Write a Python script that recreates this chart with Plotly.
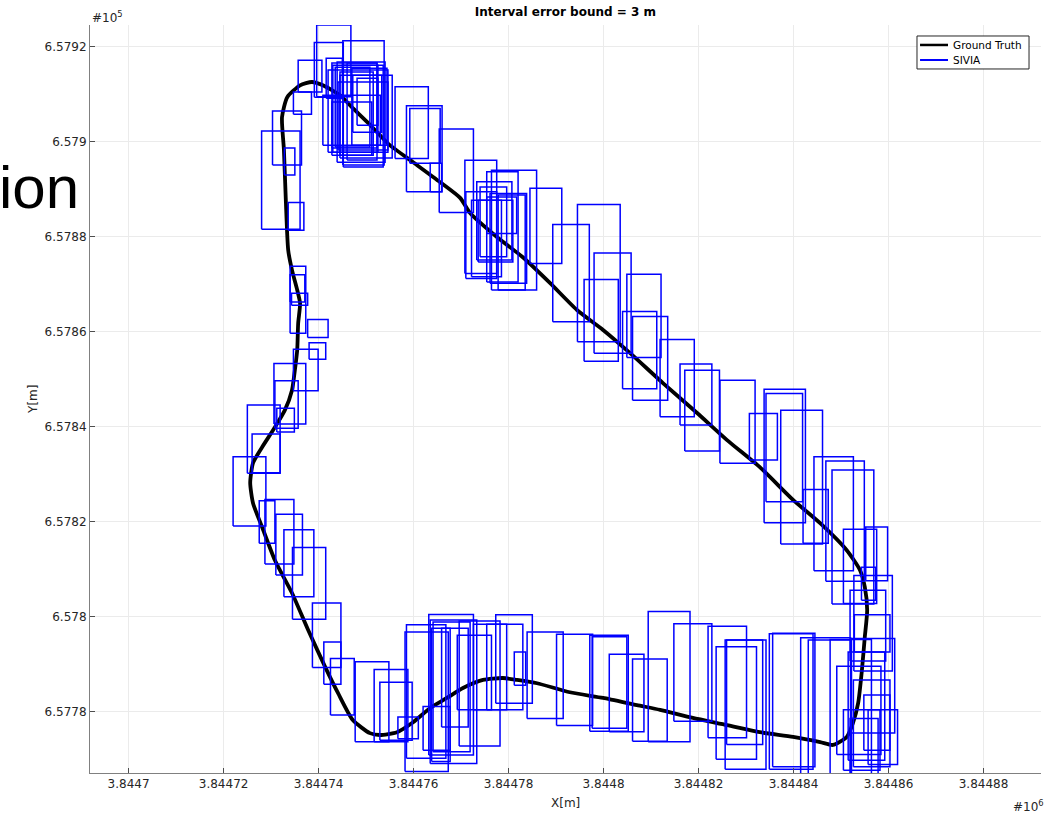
import plotly.graph_objects as go

# Local ENU origin (metres); the axes show absolute coordinates
X0 = 3844700.0
Y0 = 657780.0

# Ground-truth trajectory, local east/north (m)
gt_east = [38.6, 40.9, 44.5, 47.2, 50.2, 52.9, 55.0, 59.9, 65.6, 69.8, 71.9, 77.6, 83.0, 88.7,
           94.4, 99.9, 105.6, 112.5, 119.7, 126.0, 132.9, 139.9, 145.6, 151.2, 154.0, 155.0,
           155.5, 155.0, 154.4, 153.6, 152.5, 151.2, 148.3, 145.6, 139.9, 132.9, 126.0, 118.8,
           111.9, 107.0, 99.9, 92.9, 86.0, 81.8, 78.8, 74.6, 70.4, 67.0, 63.5, 59.9, 56.5, 52.9,
           50.8, 47.2, 44.1, 41.4, 37.8, 34.4, 30.8, 28.1, 26.2, 25.6, 26.2, 28.1, 30.8, 32.9,
           34.4, 35.0, 35.5, 35.7, 36.1, 35.5, 34.4, 33.6, 33.1, 32.7, 32.3, 33.4, 36.1, 38.6]
gt_north = [132.6, 131.9, 129.8, 127.1, 124.2, 121.4, 119.3, 115.7, 111.5, 108.2, 105.0, 99.9,
            95.7, 90.3, 84.6, 80.4, 75.5, 69.2, 62.9, 57.2, 51.5, 44.6, 39.7, 34.0, 29.8, 26.3,
            21.4, 15.7, 8.8, 1.8, -2.4, -5.3, -7.0, -6.4, -5.3, -4.3, -2.8, -1.3, 0.4, 1.4, 2.9,
            4.1, 6.0, 6.7, 7.1, 6.7, 5.0, 2.9, 0.8, -2.2, -4.3, -4.9, -4.5, -1.75, 3.9, 9.4, 17.2,
            25.0, 31.9, 38.9, 43.9, 48.2, 52.4, 55.7, 59.9, 63.5, 67.7, 71.9, 76.2, 81.8, 86.0,
            88.8, 93.0, 97.2, 107.7, 118.3, 125.2, 129.4, 131.9, 132.6]

# SIVIA solution boxes, local east/north bounds (m)
box_east_min = [39.6, 39.1, 45.1, 35.7, 34.7, 30.3, 28.0, 32.8, 33.6,
                41.6, 42.8, 43.0, 43.9, 40.9, 42.0, 44.5, 45.2, 44.5, 43.5, 46.0, 47.0, 44.1, 42.8, 47.2, 48.1,
                56.1, 58.5, 59.2, 65.4, 63.5,
                70.8, 73.3, 75.4, 76.4, 84.5, 71.0, 72.2, 74.0, 75.4, 73.6, 76.1, 77.8,
                89.3, 94.5, 98.0, 95.9, 104.9, 104.0, 106.1, 111.9, 116.1, 117.1, 124.5,
                130.7, 133.8, 134.2, 137.3, 142.0, 144.3, 146.8, 148.1, 150.5, 155.2, 154.3,
                151.9, 152.7, 152.8, 152.1, 149.1, 151.5, 152.6, 154.8, 155.7, 150.5, 151.9,
                147.7, 143.1, 141.5, 135.6, 134.9, 125.9, 125.6, 123.7, 122.0, 114.8, 109.4,
                106.1, 101.2, 97.6, 97.1, 90.1, 83.9, 81.2, 77.3, 75.4, 72.6, 69.6, 69.2,
                63.8, 65.9, 64.1, 63.5, 63.2, 62.0, 58.5, 58.2, 56.7, 52.9, 51.7, 47.7,
                42.5, 41.1, 38.7, 34.5, 32.7, 31.0, 28.7, 27.5, 22.0, 26.0, 25.0, 31.2,
                30.8, 30.6, 34.7, 38.0, 37.7, 34.3, 34.0, 34.0]
box_east_max = [46.8, 45.2, 53.8, 40.7, 38.5, 36.4, 36.1, 35.0, 36.9,
                45.0, 52.3, 52.5, 54.0, 53.0, 54.6, 55.5, 53.6, 51.5, 50.8, 52.3, 54.4, 54.6, 51.2, 53.3, 52.5,
                63.1, 66.0, 65.6, 72.6, 65.9,
                77.5, 80.7, 82.0, 85.9, 91.2, 77.5, 78.5, 79.6, 81.7, 80.9, 83.8, 83.5,
                97.0, 103.5, 105.8, 103.1, 112.1, 111.2, 113.5, 119.1, 122.8, 124.4, 131.9,
                136.6, 142.5, 141.9, 146.1, 147.3, 152.6, 154.9, 156.9, 157.5, 159.8, 157.3,
                159.4, 160.8, 160.3, 161.3, 158.4, 159.2, 160.3, 160.3, 161.9, 158.2, 157.8,
                156.4, 152.2, 152.0, 144.5, 144.1, 133.5, 134.2, 132.2, 130.1, 122.8, 118.2,
                113.4, 108.5, 104.9, 105.2, 97.7, 91.5, 83.6, 85.0, 83.0, 79.6, 78.2, 76.4,
                67.7, 71.5, 71.9, 73.3, 72.6, 67.7, 66.8, 67.3, 61.0, 59.7, 58.8, 54.8,
                47.5, 44.7, 44.7, 41.5, 39.0, 36.6, 34.8, 30.8, 28.9, 31.9, 31.9, 34.9,
                35.7, 37.3, 39.9, 41.5, 42.0, 37.7, 37.1, 37.3]
box_north_min = [129.5, 129.4, 115.1, 130.5, 125.8, 115.1, 101.6, 113.0, 101.4,
                 129.2, 118.7, 117.8, 115.7, 119.3, 117.8, 116.6, 114.7, 117.2, 118.9, 116.2, 119.3, 118.3, 117.2, 122.0, 123.5,
                 116.5, 109.5, 115.5, 105.1, 109.5,
                 92.3, 95.1, 90.5, 88.8, 94.4, 91.2, 91.6, 95.8, 100.7, 94.7, 90.2, 88.8,
                 82.1, 77.9, 75.5, 73.8, 74.6, 68.0, 65.6, 62.1, 60.4, 54.9, 52.3,
                 53.0, 39.8, 44.2, 35.3, 35.5, 29.7, 27.5, 22.7, 22.8, 27.6, 23.5,
                 10.7, 8.6, 12.6, -4.5, -9.0, -10.2, -11.6, -8.1, -11.1, -12.3, -13.2,
                 -13.5, -13.5, -13.2, -11.6, -12.1, -6.9, -12.1, -10.0, -5.5, -2.0, -6.3,
                 -6.2, -4.2, -3.5, -4.1, -2.9, -1.4, 5.6, 1.8, 0.4, 0.4, -7.2, 0.4,
                 -10.5, -3.2, -8.4, -10.9, -9.1, -8.1, -9.8, -12.6, -5.7, -6.0, -6.3, -6.3,
                 -0.7, 5.8, 9.3, 19.5, 24.2, 28.8, 31.1, 35.5, 39.1, 50.3, 50.2, 58.9,
                 59.7, 60.6, 67.6, 74.2, 78.8, 85.6, 86.3, 79.7]
box_north_max = [144.6, 140.9, 141.3, 137.2, 130.5, 126.5, 122.3, 118.7, 107.2,
                 137.6, 136.6, 136.1, 136.8, 129.8, 135.1, 134.0, 136.1, 134.7, 135.7, 136.6, 135.5, 132.6, 128.4, 134.0, 133.4,
                 131.6, 127.6, 127.0, 122.7, 115.5,
                 116.1, 111.6, 113.7, 114.0, 110.2, 109.5, 107.7, 110.5, 108.4, 107.7, 109.1, 108.8,
                 102.6, 106.8, 96.6, 91.0, 92.1, 84.3, 83.2, 78.4, 73.2, 71.9, 69.8,
                 62.8, 67.9, 67.0, 63.5, 46.8, 53.7, 52.8, 50.9, 38.4, 38.9, 30.4,
                 25.6, 28.7, 20.4, 15.4, 9.6, 12.6, 6.7, 3.5, 0.4, 0.4, -1.4,
                 15.2, 15.1, 15.6, 16.5, 16.4, 15.1, 15.1, 13.7, 18.0, 18.5, 21.1,
                 11.1, 12.1, 15.8, 16.1, 16.3, 16.8, 12.6, 20.4, 18.4, 18.4, 19.1, 16.1,
                 17.6, 17.6, 18.9, 19.3, 20.5, 1.1, 18.3, 16.8, -1.1, 6.2, 8.9, 10.5,
                 11.2, 14.7, 22.9, 34.6, 38.3, 41.6, 44.7, 44.4, 53.7, 58.5, 64.6, 63.9,
                 69.7, 73.3, 76.3, 77.7, 82.6, 88.1, 92.0, 93.8]

x_tick_vals = [3844700, 3844720, 3844740, 3844760, 3844780, 3844800, 3844820, 3844840, 3844860, 3844880]
x_tick_text = ["3.8447", "3.84472", "3.84474", "3.84476", "3.84478", "3.8448",
               "3.84482", "3.84484", "3.84486", "3.84488"]
y_tick_vals = [657780, 657800, 657820, 657840, 657860, 657880, 657900, 657920]
y_tick_text = ["6.5778", "6.578", "6.5782", "6.5784", "6.5786", "6.5788", "6.579", "6.5792"]

series_names = ["Ground Truth", "SIVIA"]
series_colors = ["black", "#0000ff"]

# Box outlines as one polyline with gaps between rectangles
bx, by = [], []
for e0, e1, n0, n1 in zip(box_east_min, box_east_max, box_north_min, box_north_max):
    bx += [X0 + e0, X0 + e1, X0 + e1, X0 + e0, X0 + e0, None]
    by += [Y0 + n0, Y0 + n0, Y0 + n1, Y0 + n1, Y0 + n0, None]

fig = go.Figure()
fig.add_trace(go.Scatter(
    x=[X0 + e for e in gt_east], y=[Y0 + n for n in gt_north],
    mode="lines", name=series_names[0], showlegend=False,
    line=dict(color=series_colors[0], width=3.8, shape="spline", smoothing=0.6),
))
fig.add_trace(go.Scatter(
    x=bx, y=by, mode="lines", name=series_names[1], showlegend=False,
    line=dict(color=series_colors[1], width=1.5),
))

FONT = "DejaVu Sans"
axis_common = dict(
    showgrid=True, gridcolor="#ebebeb", gridwidth=1,
    zeroline=False, showline=True, linecolor="#808080", linewidth=1,
    ticks="inside", ticklen=5, tickcolor="#4d4d4d",
    tickfont=dict(family=FONT, size=12, color="#262626"),
    mirror=False,
)
fig.update_xaxes(range=[X0 - 8.13, X0 + 192.1], tickmode="array",
                 tickvals=x_tick_vals, ticktext=x_tick_text, **axis_common)
fig.update_yaxes(range=[Y0 - 12.9, Y0 + 144.6], tickmode="array",
                 tickvals=y_tick_vals, ticktext=y_tick_text, **axis_common)

# Compact boxed legend in the top-right corner of the axes
leg_x0, leg_x1, leg_y0, leg_y1 = 0.8696, 0.9874, 0.9412, 0.9853
leg_rows = [0.9733, 0.9532]
leg_widths = [2.5, 2.0]
shapes = [dict(type="rect", xref="paper", yref="paper", x0=leg_x0, x1=leg_x1, y0=leg_y0, y1=leg_y1,
               line=dict(color="#262626", width=1), fillcolor="white", layer="above")]
annotations = []
for name, color, yrow, lw in zip(series_names, series_colors, leg_rows, leg_widths):
    shapes.append(dict(type="line", xref="paper", yref="paper", x0=0.8728, x1=0.9022, y0=yrow, y1=yrow,
                       line=dict(color=color, width=lw), layer="above"))
    annotations.append(dict(text=name, xref="paper", yref="paper", x=0.9054, y=yrow, showarrow=False,
                            xanchor="left", yanchor="middle",
                            font=dict(family=FONT, size=10.5, color="black")))

annotations += [
    dict(text="X[m]", xref="paper", yref="paper", x=0.5, y=-0.040, showarrow=False,
         xanchor="center", yanchor="middle", font=dict(family=FONT, size=12, color="#262626")),
    dict(text="Y[m]", xref="paper", yref="paper", x=-0.060, y=0.5, showarrow=False,
         textangle=-90, xanchor="center", yanchor="middle",
         font=dict(family=FONT, size=12, color="#262626")),
    dict(text="#10<sup>5</sup>", xref="paper", yref="paper", x=0.0, y=1.011, showarrow=False,
         xanchor="left", yanchor="middle", font=dict(family=FONT, size=12, color="#262626")),
    dict(text="#10<sup>6</sup>", xref="paper", yref="paper", x=1.005, y=-0.044, showarrow=False,
         xanchor="right", yanchor="middle", font=dict(family=FONT, size=12, color="#262626")),
    dict(text="ion", xref="paper", yref="paper", x=-0.0095, y=0.783, showarrow=False,
         xanchor="right", yanchor="middle",
         font=dict(family="Liberation Sans", size=60, color="black")),
]

fig.update_layout(
    width=1048, height=813,
    margin=dict(l=90, r=7, t=25, b=40),
    paper_bgcolor="white", plot_bgcolor="white",
    showlegend=False,
    title=dict(text="<b>Interval error bound = 3 m</b>", x=0.5395, xanchor="center",
               y=0.985, yanchor="middle", font=dict(family=FONT, size=12, color="black")),
    shapes=shapes,
    annotations=annotations,
)

fig.write_html("out.html")
